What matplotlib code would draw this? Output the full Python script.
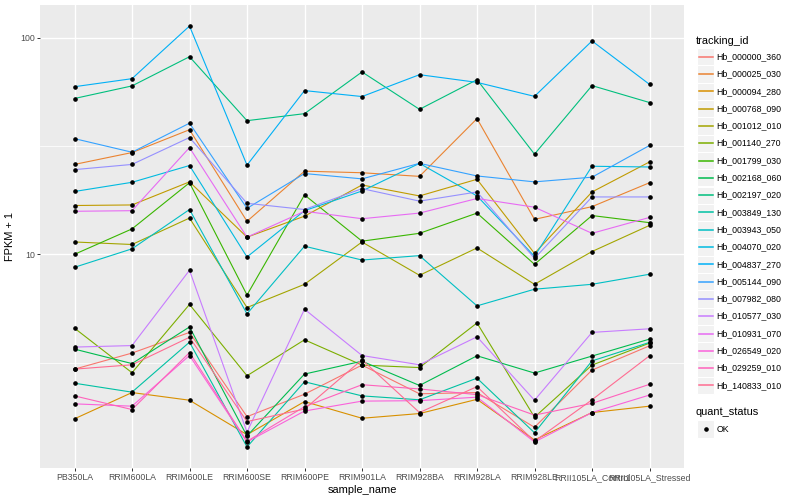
import numpy as np
import matplotlib
matplotlib.use('Agg')
import matplotlib.pyplot as plt
from matplotlib.lines import Line2D
from matplotlib.patches import Rectangle
from matplotlib.ticker import FixedLocator, NullFormatter

plt.rcParams['font.family'] = ['Liberation Sans', 'DejaVu Sans']

# --- data (FPKM + 1) ---
samples = ['PB350LA', 'RRIM600LA', 'RRIM600LE', 'RRIM600SE', 'RRIM600PE',
           'RRIM901LA', 'RRIM928BA', 'RRIM928LA', 'RRIM928LE',
           'RRII105LA_Control', 'RRII105LA_Stressed']

hb_000000_360 = [2.95, 3.50, 4.36, 1.78, 2.26, 3.08, 2.27, 2.30, 1.59, 2.92, 3.78]
hb_000025_030 = [26.0, 29.5, 37.6, 14.2, 24.2, 23.8, 22.9, 42.3, 14.5, 16.6, 21.4]
hb_000094_280 = [1.74, 2.30, 2.12, 1.47, 2.09, 1.75, 1.84, 2.14, 1.39, 1.86, 1.99]
hb_000768_090 = [16.8, 16.9, 21.6, 12.0, 15.0, 20.9, 18.6, 22.2, 10.1, 19.4, 26.7]
hb_001012_010 = [11.4, 11.1, 14.7, 5.68, 7.27, 11.4, 8.00, 10.7, 7.27, 10.3, 13.6]
hb_001140_270 = [4.56, 2.84, 5.87, 2.75, 4.03, 3.08, 3.00, 4.82, 1.77, 3.08, 3.89]
hb_001799_030 = [10.0, 13.1, 21.4, 6.49, 18.8, 11.5, 12.5, 15.5, 8.99, 15.1, 14.0]
hb_002168_060 = [3.65, 3.13, 4.62, 1.45, 2.80, 3.21, 2.48, 3.40, 2.83, 3.39, 4.06]
hb_002197_020 = [52.4, 59.9, 81.7, 41.4, 44.6, 69.5, 46.7, 64.0, 29.0, 60.1, 50.2]
hb_003849_130 = [2.54, 2.31, 3.93, 1.29, 2.58, 2.22, 2.13, 2.68, 1.50, 3.22, 3.92]
hb_003943_050 = [8.71, 10.6, 16.1, 5.31, 10.9, 9.41, 9.86, 5.78, 6.90, 7.27, 8.09]
hb_004070_020 = [19.5, 21.5, 25.7, 9.72, 15.9, 19.6, 26.3, 18.6, 9.79, 25.5, 25.3]
hb_004837_270 = [59.4, 64.7, 113.2, 25.8, 57.0, 53.5, 67.5, 62.2, 53.6, 96.6, 60.9]
hb_005144_090 = [34.2, 29.6, 40.3, 16.3, 23.6, 22.3, 26.3, 23.0, 21.6, 22.7, 31.8]
hb_007982_080 = [24.6, 26.0, 34.6, 17.2, 16.1, 20.1, 17.6, 19.4, 9.58, 18.4, 18.4]
hb_010577_030 = [3.73, 3.79, 8.44, 1.51, 5.58, 3.41, 3.09, 4.16, 2.12, 4.36, 4.53]
hb_010931_070 = [15.8, 15.9, 31.1, 12.0, 15.8, 14.6, 15.5, 18.1, 16.5, 12.5, 14.8]
hb_026549_020 = [2.04, 1.99, 3.41, 1.36, 1.89, 2.10, 2.11, 2.19, 1.36, 1.86, 2.24]
hb_029259_010 = [2.22, 1.92, 3.52, 1.37, 1.98, 2.50, 2.39, 2.25, 1.81, 2.05, 2.51]
hb_140833_010 = [2.95, 3.09, 4.14, 1.69, 1.93, 3.26, 1.86, 2.45, 1.37, 2.13, 3.40]

gene_ids = ['Hb_000000_360', 'Hb_000025_030', 'Hb_000094_280', 'Hb_000768_090',
            'Hb_001012_010', 'Hb_001140_270', 'Hb_001799_030', 'Hb_002168_060',
            'Hb_002197_020', 'Hb_003849_130', 'Hb_003943_050', 'Hb_004070_020',
            'Hb_004837_270', 'Hb_005144_090', 'Hb_007982_080', 'Hb_010577_030',
            'Hb_010931_070', 'Hb_026549_020', 'Hb_029259_010', 'Hb_140833_010']

series = [hb_000000_360, hb_000025_030, hb_000094_280, hb_000768_090,
          hb_001012_010, hb_001140_270, hb_001799_030, hb_002168_060,
          hb_002197_020, hb_003849_130, hb_003943_050, hb_004070_020,
          hb_004837_270, hb_005144_090, hb_007982_080, hb_010577_030,
          hb_010931_070, hb_026549_020, hb_029259_010, hb_140833_010]

# ggplot default hue palette for 20 levels
colors = ['#F8766D', '#EA8331', '#D89000', '#C09B00', '#A3A500', '#7CAE00',
          '#39B600', '#00BB4E', '#00BF7D', '#00C1A3', '#00BFC4', '#00BAE0',
          '#00B0F6', '#35A2FF', '#9590FF', '#C77CFF', '#E76BF3', '#FA62DB',
          '#FF62BC', '#FF6C91']

W, H = 800, 500
fig = plt.figure(figsize=(8, 5), dpi=100)
ax = fig.add_axes([40 / W, 1 - 468 / H, (684 - 40) / W, (468 - 5) / H])
ax.set_facecolor('#EBEBEB')
for s in ax.spines.values():
    s.set_visible(False)

x = np.arange(len(samples))
for vals, c in zip(series, colors):
    ax.plot(x, vals, color=c, lw=0.8, zorder=2)
for vals in series:
    ax.plot(x, vals, 'o', color='black', ms=2.3, zorder=3)

# log scale with ggplot-like 5% expansion
ax.set_yscale('log')
lv = np.log10(np.concatenate([np.array(v) for v in series]))
lo, hi = lv.min(), lv.max()
pad = 0.05 * (hi - lo)
ax.set_ylim(10 ** (lo - pad), 10 ** (hi + pad))
ax.set_xlim(-0.6, len(samples) - 0.4)

ax.yaxis.set_major_locator(FixedLocator([10, 100]))
ax.set_yticklabels(['10', '100'])
ax.yaxis.set_minor_locator(FixedLocator([10 ** 0.5, 10 ** 1.5]))
ax.yaxis.set_minor_formatter(NullFormatter())
ax.set_xticks(x)
ax.set_xticklabels(samples)

ax.set_axisbelow(True)
ax.grid(which='major', color='white', lw=1.0)
ax.grid(which='minor', axis='y', color='white', lw=0.55)
ax.tick_params(which='minor', length=0)
ax.tick_params(which='major', length=2, width=0.7, color='#333333',
               labelcolor='#4D4D4D', labelsize=6.3, pad=1.6)

ax.set_xlabel('sample_name', fontsize=7.9, labelpad=2)
ax.set_ylabel('FPKM + 1', fontsize=7.9, labelpad=4)


# --- legends, drawn by hand in ggplot style ---
def fx(px):
    return px / W


def fy(py):
    return 1 - py / H


def key_box(yc):
    fig.add_artist(Rectangle((fx(697.3), fy(yc + 8.6)), 17.2 / W, 17.2 / H,
                             transform=fig.transFigure, facecolor='#F2F2F2',
                             edgecolor='white', lw=0.8, zorder=1))


fig.text(fx(696), fy(40.7), 'tracking_id', fontsize=7.9, va='center', ha='left')
for i, (gid, c) in enumerate(zip(gene_ids, colors)):
    yc = 56.7 + 17.3 * i
    key_box(yc)
    fig.add_artist(Line2D([fx(699), fx(712.5)], [fy(yc), fy(yc)], color=c,
                          lw=1.1, zorder=3))
    fig.text(fx(716.5), fy(yc), gid, fontsize=6.3, va='center', ha='left')

fig.text(fx(696), fy(412.3), 'quant_status', fontsize=7.9, va='center', ha='left')
key_box(429)
fig.add_artist(Line2D([fx(705.9)], [fy(429)], marker='o', color='black',
                      ms=2.3, zorder=3))
fig.text(fx(716.5), fy(429), 'OK', fontsize=6.3, va='center', ha='left')

fig.savefig('out.png', dpi=100, facecolor='white')
